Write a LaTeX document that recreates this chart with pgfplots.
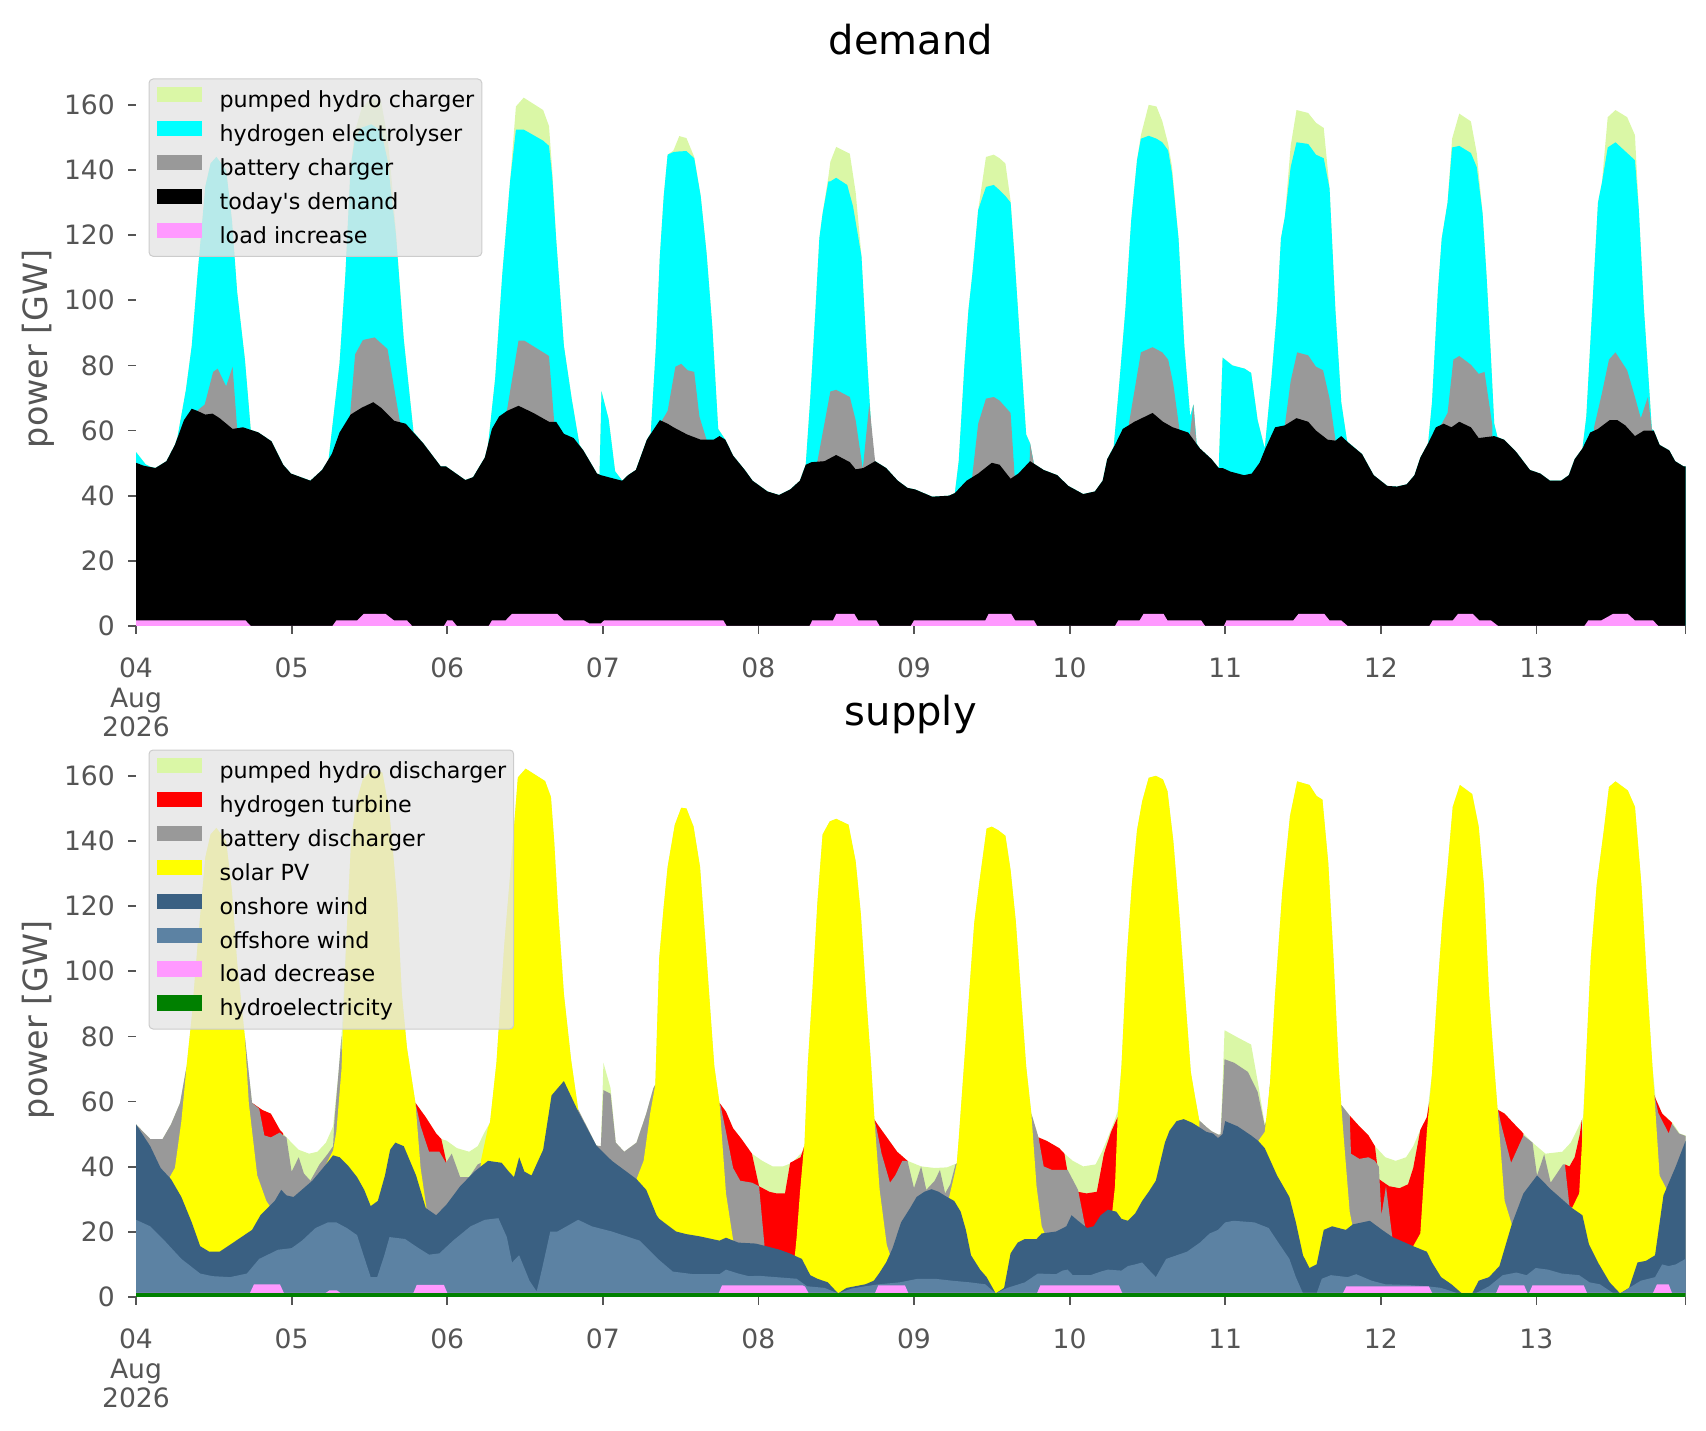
\documentclass[border=0pt]{standalone}
\usepackage{fontspec}
\setmainfont{DejaVu Sans}
\usepackage{pgfplots}
\pgfplotsset{compat=1.18}
\definecolor{phc}{RGB}{218,247,166}
\definecolor{cyanc}{RGB}{0,255,255}
\definecolor{batc}{RGB}{153,153,153}
\definecolor{pinkc}{RGB}{255,153,255}
\definecolor{onc}{RGB}{58,96,130}
\definecolor{offc}{RGB}{92,130,163}
\definecolor{hydc}{RGB}{0,128,0}
\definecolor{yelc}{RGB}{255,255,0}
\definecolor{tickc}{RGB}{85,85,85}
\definecolor{legfill}{RGB}{229,229,229}
\definecolor{legdraw}{RGB}{204,204,204}
\pgfplotsset{
  mystyle/.style={
    scale only axis, width=774.75bp, height=277.35bp,
    xmin=0, xmax=239, ymin=0, ymax=170.3,
    axis line style={draw=none},
    tick align=outside, xtick pos=left, ytick pos=left,
    major tick length=3.9bp,
    tick style={tickc, line width=0.9bp},
    xtick={0,24,...,216},
    xticklabels={{04\\Aug\\2026},05,06,07,08,09,10,11,12,13},
    extra x ticks={239}, extra x tick labels={},
    ytick={0,20,...,160},
    tick label style={font=\fontsize{13.3bp}{14.7bp}\selectfont, text=tickc},
    xticklabel style={align=center, anchor=north, inner sep=0pt, yshift=-12bp},
    yticklabel style={anchor=east, inner sep=0pt, xshift=-6.5bp},
    /pgf/number format/assume math mode=true,
    ylabel={power [GW]},
    ylabel style={font=\fontsize{16.7bp}{20bp}\selectfont, text=tickc, at={(axis description cs:-0.0632,0.5)}, anchor=center},
    title style={font=\fontsize{20bp}{24bp}\selectfont, at={(axis description cs:0.5,1)}, anchor=base, inner sep=0pt, yshift=2.65bp},
    legend style={at={(0.0081,0.987)}, anchor=north west,
      fill=legfill, fill opacity=0.8, text opacity=1, draw=legdraw, line width=0.5bp, rounded corners=2bp,
      inner xsep=3.75bp, inner ysep=4bp,
      font=\fontsize{11.1bp}{13.3bp}\selectfont,
      row sep=4.1bp,
      nodes={inner sep=0pt, text height=8.5bp, text depth=2.6bp},
      /tikz/every odd column/.append style={column sep=9bp}},
    legend image code/.code={\fill[#1, fill opacity=1, sharp corners] (0bp,-0.3bp) rectangle (22.5bp,7.3bp);},
    legend cell align=left,
  }
}
\begin{document}
\begin{tikzpicture}
\useasboundingbox (0,0) rectangle (853bp,715.5bp);
% ================= DEMAND =================
\begin{axis}[mystyle, at={(68bp,402.5bp)}, anchor=south west, title={demand}]
% pumped hydro charger (cumulative top)
\addplot[fill=phc, draw=none] coordinates {(0,53.4)(1.5,49.6)(2.2,48.9)(3.0,48.5)(4.7,50.6)(6.0,55.6)(6.4,58)(7.7,72.5)(8.6,86)(9.5,108)(10.7,135)(11.5,142)(12.4,144)(13.9,140)(14.8,124.5)(15.6,102.6)(16.8,81.8)(17.7,60.2)(18.9,59.4)(20.9,56.7)(22.7,49.5)(23.9,46.8)(26.9,44.6)(28.7,47.9)(29.7,51)(31.4,80.7)(32.3,108)(33.1,140.9)(33.8,152)(34.8,159)(36.3,162)(37.8,161)(38.8,150)(39.3,140)(40.1,121)(41.3,88)(42.8,59.6)(44.3,56.1)(47.0,49)(47.8,49)(50.8,44.8)(52.0,45.7)(53.8,51.7)(54.3,55.5)(55.4,76)(56.5,108)(57.7,136.5)(58.6,159.5)(59.8,162.2)(62.8,158.4)(63.7,153.5)(64.2,140)(64.8,119)(66.0,86)(67.2,69.8)(68.4,55.6)(69.0,53.9)(71.1,46.8)(71.5,46.6)(71.8,72)(72.9,63.5)(73.9,47.5)(75.0,44.6)(75.9,46.3)(77.1,47.9)(78.8,57.2)(79.4,59.2)(80.2,86)(80.8,113.5)(81.4,132)(82.0,144.7)(82.9,146)(83.8,150.4)(84.9,149.8)(86.1,144)(87.1,132)(88.0,114.6)(88.9,91.7)(89.8,60.5)(90.9,57.2)(92.1,52.3)(93.9,47.9)(95.1,44.6)(97.4,41.3)(99.2,40.2)(100.9,41.9)(102.4,44.6)(103.3,49.5)(104.0,69.8)(104.8,97)(105.4,119)(105.9,126.6)(106.8,138)(107.1,142.5)(108.0,147.1)(110.1,145)(111.0,133.2)(111.9,113.5)(112.8,80.7)(113.7,51.2)(114.0,50.6)(115.7,48.5)(117.5,44.6)(119.0,42.4)(120.2,41.9)(122.8,39.7)(125.4,40)(126.3,40.8)(126.9,50.6)(127.8,80.7)(128.4,97)(129.0,108)(129.9,127.7)(131.1,144)(132.3,144.7)(133.2,143.6)(134.1,142)(134.9,130.5)(135.5,113.5)(136.4,86)(137.3,58.8)(137.9,56.1)(138.5,49.8)(140.0,47.9)(142.1,46.3)(143.8,43)(146.1,40.5)(147.9,41.3)(149.1,44.6)(149.8,51.2)(150.8,55)(151.7,75.2)(152.6,97)(153.5,124.5)(154.4,143)(155.0,150.7)(156.2,160)(157.4,159.5)(158.3,155)(159.2,148)(159.8,141)(160.8,119)(161.7,86)(162.6,64.3)(163.1,68)(163.6,56)(164.1,54.5)(165.9,51.2)(167.0,48.5)(167.6,82.4)(169.1,80)(171.0,79)(172.0,77.7)(173.0,63.2)(174.1,54.5)(175.1,75.2)(176.0,97)(176.6,119)(177.2,125.6)(178.1,147.4)(179.0,158.4)(180.8,157.5)(182.0,154.5)(183.2,152.9)(184.1,134.3)(185.0,97)(185.9,68.7)(186.8,56.7)(189.1,52.8)(190.9,46.3)(193.0,43)(194.5,42.8)(196.0,43.5)(197.2,46.3)(198.1,51.7)(199.3,56.1)(199.9,68.7)(200.8,102.6)(201.4,119)(202.3,130)(203.0,149.6)(204.1,157.3)(205.9,154.9)(206.8,145.2)(207.7,126.7)(208.3,108)(208.9,86)(209.5,62.1)(210.0,58)(211.0,57.2)(212.9,53.4)(215.0,47.9)(216.6,46.8)(218.1,44.6)(219.8,44.6)(221.0,46.3)(221.9,51.2)(223.1,54.5)(223.7,64.3)(224.6,97)(225.5,130)(226.1,136)(227.0,156.2)(228.2,158.4)(230.0,156.2)(231.2,150.7)(231.8,127.7)(232.6,97)(233.5,69.8)(233.8,60.5)(234.1,60)(235.0,55.6)(236.5,53.9)(237.4,50.6)(238.7,49)(239,49)} \closedcycle;
\addlegendentry{pumped hydro charger}
% hydrogen electrolyser (cumulative top)
\addplot[fill=cyanc, draw=none] coordinates {(0,53.4)(1.5,49.6)(2.2,48.9)(3.0,48.5)(4.7,50.6)(6.0,55.6)(6.4,58)(7.7,72.5)(8.6,86)(9.5,108)(10.7,135)(11.5,142)(12.4,144)(13.9,140)(14.8,124.5)(15.6,102.6)(16.8,81.8)(17.7,60.2)(18.9,59.4)(20.9,56.7)(22.7,49.5)(23.9,46.8)(26.9,44.6)(28.7,47.9)(29.7,51)(31.4,80.7)(32.3,108)(33.1,140.9)(33.8,150)(34.8,153)(36.3,154)(37.8,152)(38.8,143)(39.3,134)(40.1,120)(41.3,88)(42.8,59.6)(44.3,56.1)(47.0,49)(47.8,49)(50.8,44.8)(52.0,45.7)(53.8,51.7)(54.3,55.5)(55.4,76)(56.5,108)(57.7,136.5)(58.6,152.4)(59.8,152.4)(62.8,149)(63.7,147.4)(64.2,138)(64.8,119)(66.0,86)(67.2,69.8)(68.4,55.6)(69.0,53.9)(71.1,46.8)(71.5,46.6)(71.8,72)(72.9,63.5)(73.9,47.5)(75.0,44.6)(75.9,46.3)(77.1,47.9)(78.8,57.2)(79.4,59.2)(80.2,86)(80.8,113.5)(81.4,132)(82.0,144.7)(82.9,145.5)(83.8,145.7)(84.9,145.8)(86.1,143.6)(87.1,132)(88.0,114.6)(88.9,91.7)(89.8,60.5)(90.9,57.2)(92.1,52.3)(93.9,47.9)(95.1,44.6)(97.4,41.3)(99.2,40.2)(100.9,41.9)(102.4,44.6)(103.3,49.5)(104.0,69.8)(104.8,97)(105.4,119)(105.9,126.6)(106.8,136.5)(107.1,136.5)(108.0,137.6)(109.7,135.4)(110.6,128.8)(111.9,113.5)(112.8,80.7)(113.7,51.2)(114.0,50.6)(115.7,48.5)(117.5,44.6)(119.0,42.4)(120.2,41.9)(122.8,39.7)(125.4,40)(126.3,40.8)(126.9,50.6)(127.8,80.7)(128.4,97)(129.0,108)(129.9,127.7)(131.1,134.8)(132.3,135.4)(133.2,133.8)(134.1,132)(134.9,130)(135.5,113.5)(136.4,86)(137.3,58.8)(137.9,56.1)(138.5,49.8)(140.0,47.9)(142.1,46.3)(143.8,43)(146.1,40.5)(147.9,41.3)(149.1,44.6)(149.8,51.2)(150.8,55)(151.7,75.2)(152.6,97)(153.5,124.5)(154.4,143)(155.0,149.6)(156.2,150.5)(157.4,149.6)(158.3,148.5)(159.2,146)(159.8,139)(160.8,119)(161.7,86)(162.6,64.3)(163.1,68)(163.6,56)(164.1,54.5)(165.9,51.2)(167.0,48.5)(167.6,82.4)(169.1,80)(171.0,79)(172.0,77.7)(173.0,63.2)(174.1,54.5)(175.1,75.2)(176.0,97)(176.6,119)(177.2,125.6)(178.1,140.9)(179.0,148.5)(180.8,148)(182.0,144.7)(183.2,143.6)(184.1,134.3)(185.0,97)(185.9,68.7)(186.8,56.7)(189.1,52.8)(190.9,46.3)(193.0,43)(194.5,42.8)(196.0,43.5)(197.2,46.3)(198.1,51.7)(199.3,56.1)(199.9,68.7)(200.8,102.6)(201.4,119)(202.3,130)(203.0,146.9)(204.1,147.4)(205.9,145.2)(206.8,140.9)(207.7,126.7)(208.3,108)(208.9,86)(209.5,62.1)(210.0,58)(211.0,57.2)(212.9,53.4)(215.0,47.9)(216.6,46.8)(218.1,44.6)(219.8,44.6)(221.0,46.3)(221.9,51.2)(223.1,54.5)(223.7,64.3)(224.6,97)(225.5,130)(226.1,136)(227.0,146.9)(228.2,148.5)(229.4,146.3)(231.2,143)(231.8,127.7)(232.6,97)(233.5,69.8)(233.8,60.5)(234.1,60)(235.0,55.6)(236.5,53.9)(237.4,50.6)(238.7,49)(239,49)} \closedcycle;
\addlegendentry{hydrogen electrolyser}
% battery charger (cumulative top)
\addplot[fill=batc, draw=none] coordinates {(0,0)(8.9,0)(9.5,66.2)(10.6,68)(11.9,78)(12.6,79)(13.9,73.6)(14.9,79.6)(15.6,60.6)(16.1,0)(32.4,0)(33.0,64.3)(33.8,83.4)(35.0,87.8)(36.8,88.6)(38.8,85)(40.7,62.8)(41.3,0)(56.7,0)(57.2,66)(59.0,87.6)(59.9,87.6)(63.7,82.9)(64.5,62.8)(65.0,0)(80.6,0)(81.1,63)(82.0,66)(83.2,79.6)(84.1,80.5)(85.1,78.5)(86.1,78)(86.9,64.3)(88.0,57.2)(88.4,0)(104.6,0)(105.1,50.5)(107.1,72)(108.0,72.5)(110.1,70.3)(111.0,63.2)(112.1,48.2)(113.1,68.1)(114.0,50.6)(114.5,0)(128.5,0)(129.0,46.3)(129.9,62.1)(131.1,69.8)(132.3,70.3)(133.2,69.2)(134.9,65.4)(135.5,46.8)(135.9,0)(137.3,0)(137.9,56.1)(138.5,49.6)(139.0,0)(152.7,0)(153.2,62.7)(155.0,84)(156.8,85.6)(158.3,84)(159.2,81.8)(160.0,74.2)(160.9,61)(161.3,0)(162.3,0)(162.6,59.4)(163.1,68)(163.6,55)(164.1,0)(176.7,0)(177.2,61.6)(178.1,75.2)(179.1,84)(180.8,83.1)(182.0,79.6)(183.1,78.5)(184.1,69.8)(185.0,57.2)(185.4,0)(200.6,0)(201.1,61)(202.3,65.4)(203.2,81.8)(204.1,82.9)(205.9,80.2)(207.1,77.4)(208.0,78)(209.2,61.6)(209.6,0)(224.4,0)(224.9,61)(226.1,71.4)(227.2,81.8)(228.2,84)(230.0,78.5)(231.2,70.3)(232.1,63.8)(233.2,70.3)(233.8,60.5)(234.2,0)(239,0)} \closedcycle;
\addlegendentry{battery charger}
% today's demand (cumulative top)
\addplot[fill=black, draw=none] coordinates {(0,50.1)(1.2,49.2)(3.0,48.5)(4.7,50.6)(6.0,55.6)(7.4,63.2)(8.6,66.7)(9.5,66)(10.7,64.9)(11.8,65.2)(12.9,63.8)(14.9,60.5)(16.5,61)(18.9,59.4)(20.9,56.7)(22.7,49.5)(23.9,46.8)(26.9,44.6)(28.7,47.9)(30.2,52.8)(31.4,59.4)(33.1,64.9)(34.8,67)(36.6,68.7)(37.8,67)(39.8,63)(41.6,62.1)(42.8,59.4)(44.3,56.1)(47.0,49)(47.8,49)(50.8,44.8)(52.0,45.7)(53.8,51.7)(54.9,60.5)(56.0,64.3)(57.2,66)(59.0,67.6)(61.3,65.4)(63.7,62.7)(64.8,62.7)(66.0,59)(67.5,57.7)(69.0,53.9)(71.1,46.8)(71.7,46.3)(73.8,45.2)(75.0,44.6)(75.9,46.3)(77.1,47.9)(78.8,57.2)(80.8,63.2)(82.0,62.1)(82.9,61)(85.0,58.8)(87.1,57.2)(89.1,57.2)(90.0,58.3)(90.9,57.2)(92.1,52.3)(93.9,47.9)(95.1,44.6)(97.4,41.3)(99.2,40.2)(100.9,41.9)(102.4,44.6)(103.3,49.5)(104.2,50.3)(106.2,50.6)(108.0,52.5)(110.1,50.3)(111.0,48.1)(112.2,48.5)(114.0,50.6)(115.7,48.5)(117.5,44.6)(119.0,42.4)(120.2,41.9)(122.8,39.7)(125.4,40)(126.3,40.8)(128.1,44.6)(129.9,46.8)(132.0,50.1)(133.2,49.5)(134.9,45.2)(136.1,46.8)(137.9,50.6)(140.0,47.9)(142.1,46.3)(143.8,43)(146.1,40.5)(147.9,41.3)(149.1,44.6)(149.8,51.2)(151.0,55.6)(152.2,60.5)(154.0,62.7)(156.8,65.4)(158.4,62.7)(159.9,61)(162.3,59.4)(164.1,54.5)(165.9,51.2)(167.0,48.5)(167.6,48.5)(168.8,47.4)(170.9,46.3)(172.1,46.8)(173.3,50.1)(174.2,54.5)(175.7,61)(177.2,61.6)(179.0,63.8)(180.8,62.7)(182.0,60)(183.8,57.2)(185.0,56.9)(185.9,58.3)(187.1,56.1)(189.1,52.8)(190.9,46.3)(193.0,43)(194.5,42.8)(196.0,43.5)(197.2,46.3)(198.1,51.7)(199.3,56.1)(200.5,61)(201.7,62.1)(202.9,61)(204.1,62.7)(205.9,61)(207.1,57.7)(209.5,58.3)(211.0,57.2)(212.9,53.4)(215.0,47.9)(216.6,46.8)(218.1,44.6)(219.8,44.6)(221.0,46.3)(221.9,51.2)(223.1,54.5)(224.3,59.4)(225.5,60.5)(227.3,63.2)(228.5,63.2)(229.7,61.6)(231.2,58.3)(232.6,60)(234.1,60)(235.0,55.6)(236.5,53.9)(237.4,50.6)(238.7,49)(239,49)} \closedcycle;
\addlegendentry{today\textquotesingle s demand}
% load increase
\addplot[fill=pinkc, draw=none] coordinates {(0,1.7)(16.9,1.7)(17.7,0)(30.3,0)(30.9,1.7)(34.1,1.7)(35.1,3.7)(38.5,3.7)(39.8,1.7)(41.8,1.7)(42.6,0)(47.5,0)(48.0,1.7)(48.8,1.7)(49.5,0)(54.4,0)(54.9,1.7)(57.0,1.7)(58.0,3.7)(65.0,3.7)(66.0,1.7)(69.1,1.7)(69.9,0.8)(71.7,0.8)(72.2,1.7)(90.6,1.7)(91.1,0)(103.9,0)(104.3,1.7)(107.5,1.7)(108.0,3.7)(110.8,3.7)(111.4,1.7)(114.2,1.7)(114.7,0)(119.5,0)(120.0,1.7)(131.0,1.7)(131.5,3.7)(135.0,3.7)(135.6,1.7)(138.5,1.7)(139.0,0)(151.0,0)(151.5,1.7)(154.8,1.7)(155.4,3.7)(158.5,3.7)(159.1,1.7)(164.3,1.7)(164.9,0)(167.8,0)(168.2,1.7)(178.5,1.7)(179.3,3.7)(183.3,3.7)(184.1,1.7)(185.9,1.7)(186.9,0)(199.5,0)(200.0,1.7)(203.1,1.7)(203.9,3.7)(206.2,3.7)(207.2,1.7)(209.0,1.7)(210.1,0)(223.4,0)(224.0,1.7)(226.0,1.7)(227.8,3.7)(230.1,3.7)(231.2,1.7)(234.0,1.7)(234.8,0)(239,0)} \closedcycle;
\addlegendentry{load increase}
\end{axis}
% ================= SUPPLY =================
\begin{axis}[mystyle, at={(68bp,67bp)}, anchor=south west, title={supply}]
% pumped hydro discharger (cumulative top = total)
\addplot[fill=phc, draw=none] coordinates {(0,53)(2.2,48.5)(4.1,48.5)(5.4,53)(6.8,59.6)(7.8,70.8)(8.6,86)(9.5,108)(10.7,135)(11.5,142)(12.4,144)(13.9,140)(14.8,124.5)(15.6,102.6)(16.8,79.7)(17.9,59.6)(19.5,57.4)(20.8,56.3)(22.2,51.3)(23.2,49)(25.1,45.2)(26.7,44)(28,44.6)(29.3,47.4)(30.4,52.4)(31.2,68)(31.7,80)(32.4,108)(33.2,140.9)(34,152)(35,159)(36.5,162)(38,161)(39,150)(39.5,140)(40.3,121)(41.0,93)(41.8,76.4)(43.1,59.6)(44.7,55.2)(46.3,50.2)(47.1,48.5)(47.9,48)(49.5,45.7)(51.4,44.6)(52.7,46.3)(53.8,50.7)(54.6,53.5)(55.6,72)(56.8,108)(58,136.5)(58.9,159.5)(60.1,162.2)(63.1,158.4)(64,153.5)(64.5,140)(65.1,119)(66,93)(67.1,73)(68.2,57.6)(71,46.5)(71.7,46.3)(72.1,71.9)(73.2,64.1)(74,47.4)(75.3,44.6)(77.2,47.4)(78.7,56.3)(79.8,64.1)(80.1,65.2)(80.7,104)(81.4,120)(82.0,132)(83.1,144.9)(84.1,150.2)(84.9,150)(86.0,144.4)(87.0,132)(87.8,110)(88.6,87.5)(89.2,70.8)(90.0,59.6)(91.0,56.9)(92.1,51.8)(93.4,48.5)(95.0,44)(96.6,41.8)(98.2,40.1)(99.8,40.1)(101.2,41.2)(102.8,44.6)(103.1,46.5)(103.6,70.8)(104.3,93)(105.1,121)(105.9,142)(107.0,146)(108.0,146.8)(109.9,145)(111.0,133.8)(111.8,117.6)(112.6,93)(113.4,70.8)(113.9,54.5)(114.2,53.5)(116.0,48.5)(117.4,44.6)(119.0,41.8)(121.1,40.1)(123.2,39.6)(125.1,39.8)(126.2,40.7)(126.6,41)(126.9,48.5)(127.7,70.8)(128.5,93)(129.3,115)(130.1,127.6)(131.2,143.8)(132.0,144.4)(133.0,143.3)(134.1,141.6)(134.9,131)(135.7,115.4)(136.5,93)(137.3,70.8)(138.1,56.3)(139.2,49)(140.5,47.9)(142.4,45.7)(143.2,44)(144.5,41.8)(146.1,40.1)(148.0,40.7)(149.0,44.6)(149.8,48.5)(150.9,54)(151.4,57)(152.0,70.8)(152.8,104)(153.6,126.5)(154.4,143.3)(155.2,152.2)(156.2,159.4)(157.3,160)(158.4,158.9)(159.1,155.3)(160.0,140)(160.9,118)(161.8,93)(162.7,69)(163.3,62)(164.0,54.2)(165.1,52.2)(165.9,50.9)(167.0,49.8)(167.3,50)(167.9,81.9)(169.9,79.7)(172.0,77.5)(173.1,65.2)(174.1,53)(174.5,55)(174.9,65.2)(175.7,93)(176.8,124.3)(178.0,147.7)(179.1,158.3)(181.0,157.2)(182.1,153.8)(183.0,152.7)(183.9,133.2)(184.7,104.2)(185.5,70.8)(185.9,59)(187.2,55.7)(188.7,52.4)(190.1,49.6)(191.1,46.3)(192.7,42.9)(194.3,41.8)(195.9,42.9)(197.0,46.3)(198.1,51.3)(199.1,55.2)(199.9,68.6)(200.7,93)(201.5,115.4)(202.3,132)(203.1,150.5)(204.2,157.2)(206.1,154.4)(207.1,144.4)(207.9,126.5)(208.7,93)(209.5,70.8)(210.0,58)(210.2,57.4)(211.1,56.3)(212.4,53.5)(214.0,50.2)(215.4,47.4)(217.4,44)(220.0,44.6)(221.3,47.4)(222.4,51.8)(223.2,55.2)(223.6,70.8)(224.4,104.2)(225.3,126.5)(226.4,143.3)(227.2,156.6)(228.2,158.3)(230.1,155.5)(231.2,150.5)(232.2,126.5)(233.0,98.7)(233.9,70.8)(234.4,60.8)(235.4,56.3)(237.0,53.5)(238.1,50.2)(239,49.6)} \closedcycle;
\addlegendentry{pumped hydro discharger}
% hydrogen turbine (cumulative top)
\addplot[fill=red, draw=none] coordinates {(0,0)(17.4,0)(17.9,59.6)(19.5,57.4)(20.8,56.3)(22.2,51.3)(22.7,50.2)(23.3,0)(42.6,0)(43.1,59.6)(44.7,55.2)(46.3,50.2)(47.1,48.5)(47.9,41.2)(48.3,0)(89.5,0)(90.0,59.6)(91.0,56.9)(92.1,51.8)(93.4,48.5)(95.0,44)(96.1,34)(97.7,32.3)(98.8,31.8)(100.1,31.8)(100.9,41.2)(102.5,42.9)(102.8,44.6)(103.1,46.5)(103.8,0)(113.4,0)(113.9,54.5)(114.2,53.5)(116.0,48.5)(117.4,44.6)(119.0,41.8)(119.4,0)(138.4,0)(139.2,49)(140.5,47.9)(142.4,45.7)(143.2,44)(144.0,34.6)(145.3,32.3)(146.6,31.8)(148.2,32.3)(149.3,44)(150.4,50.7)(151.4,55.2)(152.1,0)(186.6,0)(187.2,55.7)(188.7,52.4)(190.1,49.6)(191.1,46.3)(191.7,36.2)(193.3,34)(194.9,33.4)(196.2,34.6)(197.0,39.6)(198.1,51.3)(199.1,55.2)(199.5,60)(200.2,0)(209.6,0)(210.1,57.4)(211.1,56.3)(212.4,53.5)(214.0,50.2)(214.4,0)(220.0,0)(220.4,40.7)(221.1,40.1)(221.9,42.9)(222.7,50)(223.0,54.3)(223.6,0)(233.8,0)(234.2,62)(234.4,60.8)(235.4,56.3)(236.9,53.5)(237.3,0)(239,0)} \closedcycle;
\addlegendentry{hydrogen turbine}
% battery discharger (cumulative top)
\addplot[fill=batc, draw=none] coordinates {(0,53)(2.2,48.5)(4.1,48.5)(5.4,53)(6.8,59.6)(7.8,70.8)(8.6,0)(16.0,0)(16.8,79.7)(17.9,59.6)(19.0,57.8)(19.8,49.6)(20.8,49)(22.2,50.5)(22.7,49.6)(23.2,49)(24.0,38.5)(25.1,42.9)(25.9,37.9)(26.9,35.7)(28.3,40.7)(29.6,44)(30.4,46.3)(30.6,54)(31.2,68)(31.7,80)(32.4,0)(42.3,0)(43.1,59.6)(43.9,52.4)(45.2,44.6)(46.8,44.6)(47.8,41.2)(48.7,44)(50.0,36.8)(51.4,36.8)(52.7,40.7)(53.8,41.8)(54.6,53.5)(55.4,0)(67.6,0)(68.2,57.6)(71.0,46.5)(71.7,46.3)(72.1,63.5)(73.2,62.4)(74.0,47.4)(75.3,44.6)(77.2,47.4)(78.7,56.3)(79.8,64.1)(80.1,65.2)(80.9,0)(89.5,0)(90.0,59.6)(90.2,58.5)(91.0,50.7)(92.1,39.6)(93.2,35.7)(95.0,35.1)(96.1,34)(96.9,16.7)(97.5,0)(113.4,0)(113.9,54.5)(114.3,51)(115.0,44)(116.3,35.1)(117.1,37.3)(118.2,41.8)(119.0,41.8)(120.0,33.4)(121.1,40.1)(121.9,32.9)(123.2,35.7)(124.0,39)(124.8,31.8)(125.6,34.6)(126.4,40.7)(126.6,41)(127.3,0)(137.3,0)(138.1,56.3)(139.2,49)(140.0,40.1)(141.3,39)(143.2,39)(143.7,39)(145.3,32.9)(146.4,21.7)(147.0,0)(163.6,0)(164.0,54.2)(165.1,52.2)(165.9,50.9)(167.0,49.8)(167.3,50)(167.9,73)(169.4,71.9)(171.5,69.1)(173.0,63)(174.1,52.5)(174.5,55)(174.9,65.2)(175.6,0)(185.5,0)(185.9,59)(187.2,55.7)(187.4,44)(188.7,42.4)(190.1,42.9)(191.1,41.8)(191.7,40)(192.1,25.1)(192.8,34)(193.8,18)(194.3,0)(209.5,0)(210.1,57.4)(210.5,53.5)(212.1,41.2)(214.0,49.6)(215.4,47.4)(216.1,37.3)(217.2,43.8)(218.2,35.1)(220.1,40.7)(220.4,40.7)(221.1,27.9)(221.9,26.9)(222.5,0)(233.6,0)(234.2,62)(234.8,56.5)(236.4,50.2)(236.9,53.2)(238.0,50.2)(238.9,49.5)(239,49.5)} \closedcycle;
\addlegendentry{battery discharger}
% solar PV (cumulative top)
\addplot[fill=yelc, draw=none] coordinates {(0,0)(4.2,0)(5.2,36.8)(6.0,39.6)(7.0,54)(7.8,70.8)(8.6,86)(9.5,108)(10.7,135)(11.5,142)(12.4,144)(13.9,140)(14.8,124.5)(15.6,102.6)(16.8,79.7)(17.4,59.6)(18.7,37.3)(20.1,29.5)(20.6,28)(21.5,0)(28.3,0)(29.3,40.7)(30.4,45)(30.9,50.7)(31.7,70)(32.4,108)(33.2,140.9)(34,152)(35,159)(36.5,162)(38,161)(39,150)(39.5,140)(40.3,121)(41.0,93)(41.8,76.4)(43.1,59.6)(43.9,39.6)(44.8,27.3)(45.6,0)(52.2,0)(53.2,41.8)(54.3,52)(54.6,53.5)(55.6,72)(56.8,108)(58,136.5)(58.9,159.5)(60.1,162.2)(63.1,158.4)(64,153.5)(64.5,140)(65.1,119)(66,93)(67.1,73)(68.2,57.6)(69.0,0)(76.2,0)(77.2,36.2)(78.3,41.8)(79.3,56.3)(80.1,65.2)(80.7,104)(81.4,120)(82.0,132)(83.1,144.9)(84.1,150.2)(84.9,150)(86.0,144.4)(87.0,132)(87.8,110)(88.6,87.5)(89.2,70.8)(90.0,59.6)(91.0,31.8)(92.1,17.5)(93.0,0)(101.0,0)(101.9,18.4)(102.4,31.8)(103.0,45.5)(103.1,46.5)(103.6,70.8)(104.3,93)(105.1,121)(105.9,142)(107.0,146)(108.0,146.8)(109.9,145)(111.0,133.8)(111.8,117.6)(112.6,93)(113.4,70.8)(113.9,54.5)(114.7,32.9)(115.8,16)(116.3,13)(117.0,0)(124.8,0)(125.4,30.5)(126.2,37.3)(126.6,41)(126.9,48.5)(127.7,70.8)(128.5,93)(129.3,115)(130.1,127.6)(131.2,143.8)(132.0,144.4)(133.0,143.3)(134.1,141.6)(134.9,131)(135.7,115.4)(136.5,93)(137.3,70.8)(138.1,56.3)(138.9,34)(139.7,21.7)(140.1,19.8)(140.8,0)(150.0,0)(150.6,26.5)(151.0,34)(151.4,54.5)(152.0,70.8)(152.8,104)(153.6,126.5)(154.4,143.3)(155.2,152.2)(156.2,159.4)(157.3,160)(158.4,158.9)(159.1,155.3)(160.0,140)(160.9,118)(161.8,93)(162.7,69)(163.3,62)(164.0,54.2)(164.5,0)(172.2,0)(173.1,47.9)(174.1,50.7)(174.9,65.2)(175.7,93)(176.8,124.3)(178.0,147.7)(179.1,158.3)(181.0,157.2)(182.1,153.8)(183.0,152.7)(183.9,133.2)(184.7,104.2)(185.5,70.8)(185.9,59)(186.3,48.5)(187.2,26.2)(187.6,22.2)(188.3,0)(196.4,0)(197.0,15.6)(198.1,19.5)(199.1,50.7)(199.9,68.6)(200.7,93)(201.5,115.4)(202.3,132)(203.1,150.5)(204.2,157.2)(206.1,154.4)(207.1,144.4)(207.9,126.5)(208.7,93)(209.5,70.8)(210.0,58)(211.1,29.5)(212.2,22.3)(212.9,0)(220.5,0)(221.5,27.3)(222.6,31.8)(223.3,57)(223.6,70.8)(224.4,104.2)(225.3,126.5)(226.4,143.3)(227.2,156.6)(228.2,158.3)(230.1,155.5)(231.2,150.5)(232.2,126.5)(233.0,98.7)(233.9,70.8)(234.2,62)(235.0,37.3)(236.1,33)(236.8,0)(239,0)} \closedcycle;
\addlegendentry{solar PV}
% onshore wind (cumulative top)
\addplot[fill=onc, draw=none] coordinates {(0,53)(2.2,46.3)(3.8,39.6)(5.4,36.2)(7,30.7)(8.6,22.9)(9.9,15.6)(11.3,13.9)(12.9,13.9)(15,16.7)(17.9,20.6)(19.2,25.1)(21.4,29.5)(22.4,32.9)(23.2,31.2)(24.3,30.7)(27.2,35.7)(29.3,40.7)(30.4,43.5)(31.4,42.9)(32.8,40.1)(34.1,36.8)(35.2,32.9)(36.2,27.9)(37.3,29.5)(38.4,37.3)(39.2,45.2)(40,47.4)(41.3,46.3)(43.2,37.3)(44.7,27.3)(46.3,25.1)(47.9,28.4)(50,34)(52.2,38.5)(54.3,41.8)(56.4,41.2)(57.5,38.5)(58.3,36.8)(59.1,42.9)(59.9,38.5)(61,37.3)(62.8,45.2)(64.1,61.9)(66,66.3)(68.2,57)(71,46.5)(73.4,41.8)(77.2,36.2)(78.7,32.9)(80.3,25.1)(80.7,24)(83.3,20.1)(84.9,19.3)(87,18.6)(90,17.3)(91,18.2)(92.9,16.7)(95.6,16.4)(97.2,15.6)(99.3,14.5)(100.8,13.4)(102.7,11.7)(104,6.7)(105.1,5.6)(106.7,4.5)(108.3,1.1)(109.6,2.8)(112.5,3.9)(113.8,5)(114.6,7.2)(115.7,10.6)(116.7,15)(118,22.9)(119.4,27.3)(120.4,30.7)(121.6,32.3)(122.7,33.1)(123.8,32.3)(125.1,30.7)(126.2,29.5)(127.2,26.2)(128,20.6)(128.8,12.8)(130.2,8.4)(131.2,6.1)(132.6,1.1)(133.9,2.8)(134.9,13.4)(136,16.7)(137.1,17.8)(138.9,17.8)(139.7,19.5)(141.9,20.1)(143.5,21.7)(144.3,25.1)(145.3,23.4)(146.7,21.2)(147.7,21.7)(148.8,25.1)(149.9,26.8)(151.2,26.2)(152,24)(153,23.4)(154.1,25.6)(155.2,29.5)(156.2,32.3)(157.3,35.7)(158.7,47.4)(159.4,51)(160.5,54)(161.6,54.6)(162.9,53.5)(164.1,52)(165.1,50.7)(166.1,50.2)(166.9,48.8)(167.6,50)(168,54)(169.9,52.4)(172,49.6)(173.1,47.9)(174.1,45.7)(176,37.3)(177.9,30.7)(178.9,22.9)(180,12.8)(181,8.9)(182.1,10)(183.2,20.6)(184.5,21.7)(186.6,20.6)(187.7,22.3)(190.3,23.4)(192.2,20.6)(193.8,18.4)(197,15.6)(199.1,13.9)(199.9,10.6)(201.3,6.1)(202.9,3.9)(204.5,1.1)(206.1,1.1)(207.1,5)(208.7,6.1)(210.3,9.5)(212.2,22.3)(214,31.8)(216.1,37.3)(218.3,32.9)(221.5,27.3)(223.1,25.1)(224.1,16.2)(225.5,10.6)(227.3,4.5)(228.9,1.1)(230.3,2.8)(231.6,10.6)(232.9,11.1)(234.3,12.8)(235.6,31.2)(237.5,40.1)(239,47.9)} \closedcycle;
\addlegendentry{onshore wind}
% offshore wind (cumulative top)
\addplot[fill=offc, draw=none] coordinates {(0,23.7)(2.2,21.7)(4.4,17.3)(7,11.7)(9.9,7.2)(11.8,6.4)(14.5,6.1)(17.1,7.2)(19,11.7)(21.9,14.5)(24,15)(25.6,17.3)(27.7,21.2)(29.6,22.9)(30.9,22.9)(32.5,21.2)(34.1,19)(35.1,12.8)(36.2,6.1)(37.2,6.1)(38.3,12.8)(39.1,18.4)(41.5,17.8)(43.6,15)(45.2,13)(46.8,13.4)(48.9,17.3)(51.6,21.7)(53.8,23.7)(55.9,24.2)(57.2,18.4)(58,10.6)(59.1,12.8)(60.7,5)(61.8,1.7)(62.6,8.4)(63.9,20.1)(65,20.1)(68.2,23.7)(70.3,21.7)(73.4,20.1)(77.7,17.3)(80.5,11.7)(82.8,7.8)(86,7)(90,7)(91,8.4)(92.9,7.2)(94.5,6.4)(96.1,6.5)(98.7,6.1)(101.9,5.6)(103.5,3.3)(106.2,2.8)(108.3,1.1)(110.4,2.6)(112.5,3.3)(114.6,3.9)(117.8,4.5)(120.6,5.6)(123.2,5.6)(125.9,5)(128.6,4.5)(131,3.9)(132.6,1.1)(134.4,2.8)(137.1,4.5)(139.1,7.2)(141.9,7)(142.9,8.1)(143.7,8.4)(144.5,6.7)(147.2,6.7)(148.8,7.8)(149.9,8.4)(152,8.1)(153,9.5)(154.1,10)(155.2,10.6)(156.2,8.4)(157.3,6.1)(158.9,11.7)(160.5,12.8)(162.1,13.9)(164.1,16.7)(165.6,19.5)(166.9,20.6)(168,22.9)(169.3,23.4)(172.5,22.9)(174.7,21.2)(176.2,16.7)(177.9,11.7)(178.9,6.1)(180,1.1)(182.1,1.1)(182.9,5.6)(184.3,6.7)(186.9,6.1)(188.2,7)(190.6,5)(192.7,3.9)(195.9,3.7)(199.1,3.3)(201.3,2.8)(203.9,1.1)(206.6,1.1)(208.7,3.3)(210.8,6.7)(212.9,7.5)(214.5,6.7)(215.9,8.9)(217.8,8.4)(219.9,7.2)(222.6,6.7)(224.2,4.5)(225.8,3.9)(227.9,1.1)(229.0,1.1)(230.3,2.8)(232.1,5)(234.3,6.1)(235.4,10)(236.4,9.5)(237.5,10)(239,11.7)} \closedcycle;
\addlegendentry{offshore wind}
% load decrease (cumulative top)
\addplot[fill=pinkc, draw=none] coordinates {(0,1.3)(17.6,1.3)(18.2,3.9)(22.2,3.9)(22.8,1.3)(29.3,1.3)(29.8,2.0)(31.0,2.0)(31.5,1.3)(42.8,1.3)(43.3,3.7)(47.5,3.7)(48.0,1.3)(89.9,1.3)(90.4,3.6)(102.8,3.6)(103.2,3.2)(103.7,1.3)(114.0,1.3)(114.5,3.6)(118.6,3.6)(119.1,1.3)(139.0,1.3)(139.5,3.6)(151.6,3.6)(152.1,1.3)(186.2,1.3)(186.7,3.3)(199.4,3.3)(199.9,1.3)(209.8,1.3)(210.3,3.6)(214.1,3.6)(214.6,1.3)(214.9,1.3)(215.4,3.6)(223.3,3.6)(223.8,1.3)(234.0,1.3)(234.6,3.9)(236.4,3.9)(236.9,1.3)(239,1.3)} \closedcycle;
\addlegendentry{load decrease}
% hydroelectricity
\addplot[fill=hydc, draw=none] coordinates {(0,1.3)(239,1.3)} \closedcycle;
\addlegendentry{hydroelectricity}
\end{axis}
\end{tikzpicture}
\end{document}
